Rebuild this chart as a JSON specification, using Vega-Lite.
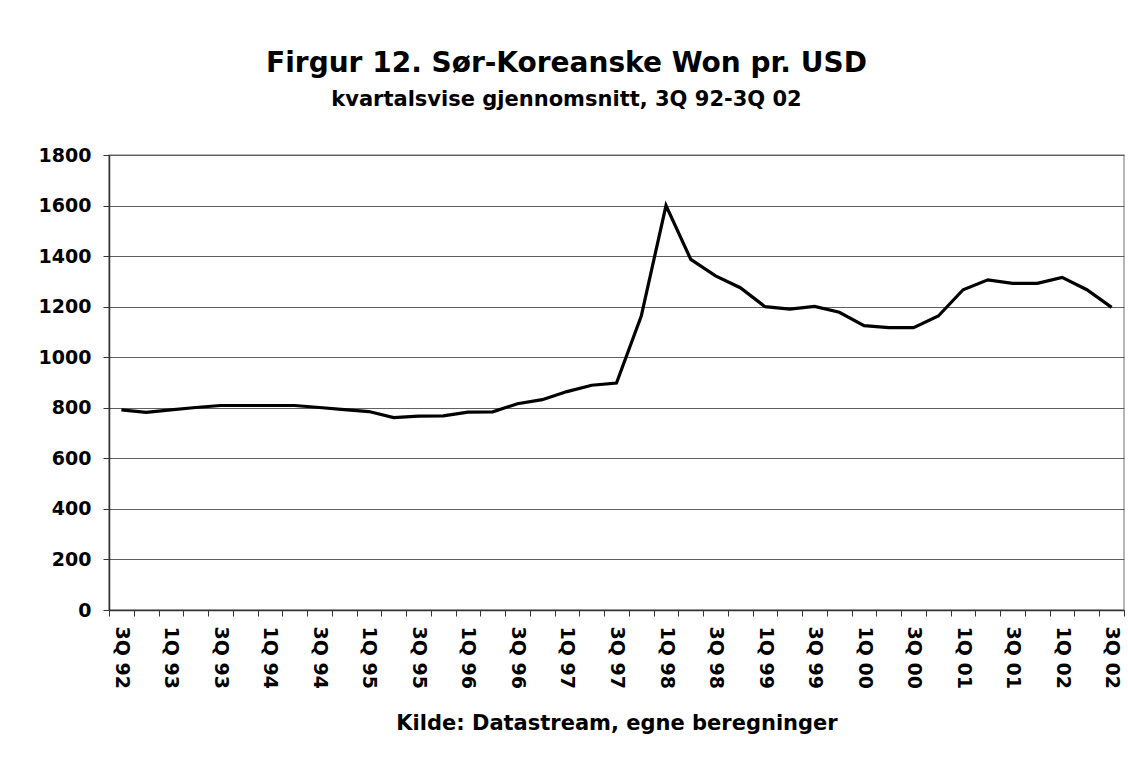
{
  "$schema": "https://vega.github.io/schema/vega-lite/v6.json",
  "autosize": {"type": "none"},
  "width": 1015,
  "height": 455,
  "padding": {"left": 109, "top": 155, "right": 4, "bottom": 155},
  "background": "white",
  "title": {
    "text": "Firgur 12. Sør-Koreanske Won pr. USD",
    "subtitle": "kvartalsvise gjennomsnitt, 3Q 92-3Q 02",
    "anchor": "middle",
    "dx": -50,
    "offset": 36,
    "font": "DejaVu Sans",
    "fontSize": 28,
    "fontWeight": "bold",
    "color": "black",
    "subtitleFont": "DejaVu Sans",
    "subtitleFontSize": 21,
    "subtitleFontWeight": "bold",
    "subtitleColor": "black",
    "subtitlePadding": 11
  },
  "data": {
    "values": [
      {"q": "3Q 92", "v": 792}, {"q": "4Q 92", "v": 782},
      {"q": "1Q 93", "v": 792}, {"q": "2Q 93", "v": 801}, {"q": "3Q 93", "v": 809}, {"q": "4Q 93", "v": 809},
      {"q": "1Q 94", "v": 809}, {"q": "2Q 94", "v": 809}, {"q": "3Q 94", "v": 801}, {"q": "4Q 94", "v": 793},
      {"q": "1Q 95", "v": 785}, {"q": "2Q 95", "v": 761}, {"q": "3Q 95", "v": 767}, {"q": "4Q 95", "v": 768},
      {"q": "1Q 96", "v": 783}, {"q": "2Q 96", "v": 784}, {"q": "3Q 96", "v": 816}, {"q": "4Q 96", "v": 832},
      {"q": "1Q 97", "v": 864}, {"q": "2Q 97", "v": 889}, {"q": "3Q 97", "v": 898}, {"q": "4Q 97", "v": 1163},
      {"q": "1Q 98", "v": 1600}, {"q": "2Q 98", "v": 1387}, {"q": "3Q 98", "v": 1322}, {"q": "4Q 98", "v": 1275},
      {"q": "1Q 99", "v": 1200}, {"q": "2Q 99", "v": 1190}, {"q": "3Q 99", "v": 1201}, {"q": "4Q 99", "v": 1178},
      {"q": "1Q 00", "v": 1125}, {"q": "2Q 00", "v": 1117}, {"q": "3Q 00", "v": 1117}, {"q": "4Q 00", "v": 1163},
      {"q": "1Q 01", "v": 1267}, {"q": "2Q 01", "v": 1306}, {"q": "3Q 01", "v": 1292}, {"q": "4Q 01", "v": 1292},
      {"q": "1Q 02", "v": 1316}, {"q": "2Q 02", "v": 1267}, {"q": "3Q 02", "v": 1197}
    ]
  },
  "mark": {"type": "line", "color": "black", "strokeWidth": 3.2, "strokeJoin": "miter"},
  "encoding": {
    "x": {
      "field": "q",
      "type": "ordinal",
      "sort": null,
      "scale": {"type": "band", "paddingInner": 0, "paddingOuter": 0},
      "axis": {
        "title": "Kilde: Datastream, egne beregninger",
        "titleFont": "DejaVu Sans",
        "titleFontSize": 21,
        "titleFontWeight": "bold",
        "titleColor": "black",
        "titlePadding": 24,
        "labelAngle": 90,
        "labelFont": "DejaVu Sans",
        "labelFontSize": 19,
        "labelFontWeight": "bold",
        "labelColor": "black",
        "labelPadding": 10,
        "labelOverlap": false,
        "labelBound": false,
        "labelExpr": "(indexof(datum.label, '2Q') === 0 || indexof(datum.label, '4Q') === 0) ? '' : datum.label",
        "tickBand": "extent",
        "tickSize": 6,
        "tickColor": "#333333",
        "domainColor": "#333333",
        "domainWidth": 1.5,
        "grid": false
      }
    },
    "y": {
      "field": "v",
      "type": "quantitative",
      "scale": {"domain": [0, 1800], "nice": false},
      "axis": {
        "title": null,
        "format": "d",
        "values": [0, 200, 400, 600, 800, 1000, 1200, 1400, 1600, 1800],
        "labelFont": "DejaVu Sans",
        "labelFontSize": 19,
        "labelFontWeight": "bold",
        "labelColor": "black",
        "labelPadding": 12,
        "tickSize": 6,
        "tickColor": "#333333",
        "domainColor": "#333333",
        "domainWidth": 1.5,
        "grid": true,
        "gridColor": "#606060",
        "gridWidth": 1
      }
    }
  },
  "config": {
    "view": {"stroke": "#a0a0a0", "strokeWidth": 1.5}
  }
}
